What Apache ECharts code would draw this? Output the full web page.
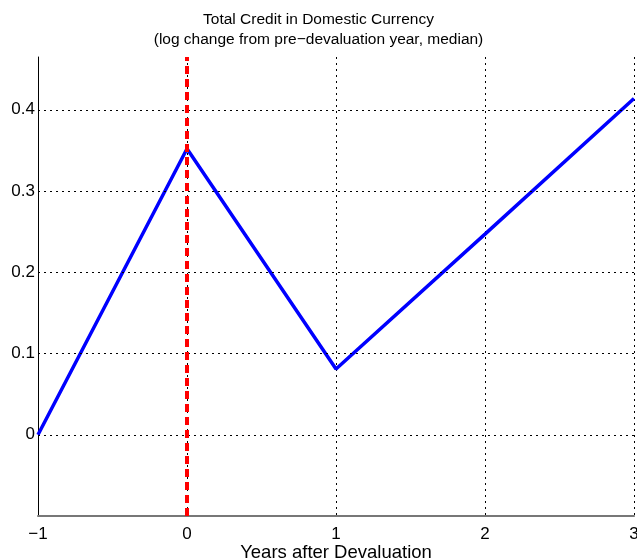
<!DOCTYPE html>
<html>
<head>
<meta charset="utf-8">
<script src="https://cdn.jsdelivr.net/npm/echarts@6/dist/echarts.min.js"></script>
<style>html,body{margin:0;padding:0;background:#fff}#c{width:637px;height:559px}</style>
</head>
<body>
<div id="c"></div>
<script>
const years = [-1, 0, 1, 2, 3];
const credit = [0, 0.352, 0.081, 0.247, 0.414];
const devalYear = 0;
const yTicks = [0, 0.1, 0.2, 0.3, 0.4];
const xTicks = [-1, 0, 1, 2, 3];
const titleText = 'Total Credit in Domestic Currency\n(log change from pre\u2212devaluation year, median)';
const xName = 'Years after Devaluation';

const font = 'Liberation Sans, Arial, Helvetica, sans-serif';
const chart = echarts.init(document.getElementById('c'), null, {renderer: 'canvas'});
const fmt = v => {
  const r = Math.round(v * 10) / 10;
  if (r < 0) return '\u2212' + Math.abs(r);
  return String(r);
};
chart.setOption({
  animation: false,
  backgroundColor: '#fff',
  title: {
    text: titleText, left: 'center', top: 5,
    textStyle: {fontFamily: font, fontSize: 15.5, fontWeight: 'normal', color: '#000', lineHeight: 20}
  },
  grid: {left: 38, right: 3, top: 57, bottom: 43, containLabel: false, outerBoundsMode: 'none'},
  xAxis: {
    type: 'value', min: -1, max: 3, interval: 1,
    name: xName, nameLocation: 'middle', nameGap: 27, nameMoveOverlap: false,
    nameTextStyle: {fontFamily: font, fontSize: 18.5, color: '#000'},
    axisLine: {show: true, onZero: false, lineStyle: {color: '#777', width: 2}},
    axisTick: {show: false},
    axisLabel: {fontFamily: font, fontSize: 17, color: '#000', margin: 10,
      formatter: v => xTicks.includes(v) ? (v < 0 ? '\u2212' + Math.abs(v) : String(v)) : ''},
    splitLine: {show: true, lineStyle: {color: '#000', type: [2, 4], width: 1}}
  },
  yAxis: {
    type: 'value', min: -0.1, max: 0.465, interval: 0.1,
    axisLine: {show: true, onZero: false, lineStyle: {color: '#000', width: 1}},
    axisTick: {show: false},
    axisLabel: {fontFamily: font, fontSize: 17, color: '#000', margin: 3,
      formatter: v => {
        const r = Math.round(v * 10) / 10;
        return (yTicks.includes(r) && Math.abs(v - r) < 1e-6) ? fmt(r) : '';
      }},
    splitLine: {show: false}
  },
  series: [
    {
      type: 'line', data: years.map((y, i) => [y, credit[i]]),
      showSymbol: false, symbol: 'none',
      lineStyle: {color: '#0000ff', width: 3.5},
      z: 3,
      markLine: {
        silent: true, symbol: 'none', label: {show: false},
        lineStyle: {color: '#000', type: [2, 4], width: 1},
        data: yTicks.map(t => ({yAxis: t}))
      }
    },
    {
      type: 'line', data: [],
      z: 4,
      markLine: {
        silent: true, symbol: 'none', label: {show: false},
        lineStyle: {color: '#ff0000', type: [8, 5], width: 4},
        data: [{xAxis: devalYear}]
      }
    }
  ]
});
</script>
</body>
</html>
